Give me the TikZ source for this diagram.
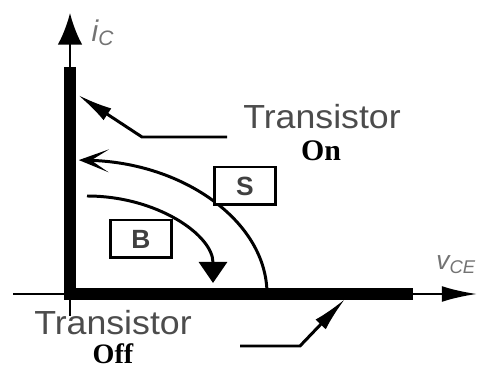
\documentclass[tikz,border=0pt]{standalone}
\usepackage{fontspec}
\setmainfont{Liberation Serif}
\setsansfont{Liberation Sans}
\usetikzlibrary{arrows.meta,positioning}

\begin{document}
\begin{tikzpicture}[
  x=0.02cm, y=0.02cm,
  axis/.style={line width=1.4pt},
  bar/.style={line width=7pt, line join=miter},
  sanstext/.style={font=\sffamily\fontsize{19}{21}\selectfont, text=black!70,
    inner sep=0pt, anchor=base, xscale=1.07},
  statetext/.style={font=\rmfamily\bfseries\fontsize{17}{19}\selectfont,
    inner sep=0pt, anchor=base},
  regbox/.style={draw, line width=1.7pt, fill=white, minimum width=1.22cm,
    minimum height=0.76cm, inner sep=0pt,
    font=\sffamily\bfseries\fontsize{15}{17}\selectfont, text=black!75},
  pointer/.style={line width=1.7pt, -{Latex[length=20pt,width=8pt]}},
  traj/.style={line width=1.7pt}
]
\useasboundingbox (0,0) rectangle (480,368);

% axes
\coordinate (xstart) at (13,74);
\coordinate (xend) at (477,74);
\coordinate (ystart) at (70,52);
\coordinate (yend) at (70,355);
\draw[axis, -{Latex[length=20pt,width=9pt]}] (xstart) -- (xend);
\draw[axis, -{Latex[length=18pt,width=14pt]}] (ystart) -- (yend);
\node[font=\sffamily\itshape\fontsize{17}{19}\selectfont, text=black!55, inner sep=0pt]
  (ic) at (103,335) {i\textsubscript{C}};
\node[font=\sffamily\itshape\fontsize{15}{17}\selectfont, text=black!55, inner sep=0pt,
  anchor=west] (vce) at (436,103) {v\textsubscript{CE}};

% regions
\coordinate (sstart) at (267,74);
\coordinate (bstart) at (87,172);
\draw[traj, -{Stealth[length=17pt,width=13pt,inset=10pt]}] (sstart)
  arc[start angle=0, end angle=88, x radius=195, y radius=134];
\draw[traj, -{Triangle[length=12pt,width=16pt]}] (bstart)
  arc[start angle=90, end angle=0, x radius=126, y radius=87];
\node[regbox] (S) at (245,182) {S};
\node[regbox] (B) at (141,129) {B};

% on / off lines
\draw[bar] (413,74) -- (70,74) -- (70,301);

% labels
\node[sanstext] (ontxt) at (322,239) {Transistor};
\node[statetext] (on) at (321,207) {On};
\node[sanstext] (offtxt) at (113,33) {Transistor};
\node[statetext, font=\rmfamily\bfseries\fontsize{16}{18}\selectfont] (off) at (113,4) {Off};

\coordinate (onend) at (227,231);
\coordinate (ontip) at (78,273);
\draw[pointer] (onend) -- (142,231) -- (ontip);
\coordinate (offend) at (240,22);
\coordinate (offtip) at (345,69);
\draw[pointer] (offend) -- (300,22) -- (offtip);
\end{tikzpicture}
\end{document}
